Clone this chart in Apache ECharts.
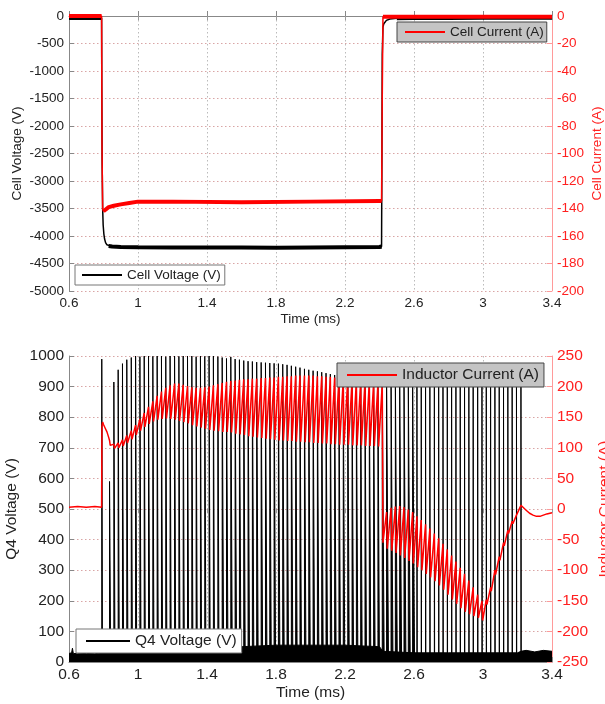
<!DOCTYPE html>
<html><head><meta charset="utf-8">
<script src="https://cdn.jsdelivr.net/npm/echarts@6/dist/echarts.min.js"></script>
<style>html,body{margin:0;padding:0;background:#fff}#c{width:605px;height:704px}</style>
</head><body><div id="c"></div>
<script>
// ---------- Top chart data ----------
const timeTicks = [0.6, 1, 1.4, 1.8, 2.2, 2.6, 3, 3.4];
const cellVoltageTime = [0.6, 0.65, 0.7, 0.75, 0.789, 0.790, 0.792, 0.795, 0.798, 0.802, 0.806, 0.812, 0.82, 0.83, 0.85, 0.9, 1.0, 1.2, 1.4, 1.6, 1.8, 2.0, 2.2, 2.4, 2.412, 2.414, 2.416, 2.42, 2.425, 2.43, 2.44, 2.46, 2.5, 2.6, 2.8, 3.0, 3.2, 3.4];
const cellVoltage = [-35, -30, -35, -30, -35, -1300, -2600, -3500, -3800, -3960, -4050, -4120, -4160, -4180, -4190, -4200, -4205, -4210, -4210, -4210, -4215, -4210, -4205, -4200, -4190, -2500, -700, -200, -140, -110, -80, -55, -40, -35, -35, -30, -30, -30];
const cellCurrentTime = [0.6, 0.7, 0.789, 0.791, 0.795, 0.80, 0.81, 0.83, 0.86, 0.9, 0.95, 1.0, 1.2, 1.6, 2.0, 2.4, 2.412, 2.416, 2.42, 2.6, 3.0, 3.4];
const cellCurrent = [0, 0, 0, -90, -140, -142, -141, -139, -138, -137, -136, -135, -135, -135.5, -135, -134.5, -134.5, -60, -0.5, -0.5, -0.5, -0.5];

// ---------- Bottom chart data ----------
const pulseTimes = [0.790,
  0.835,0.860,0.885,0.910,0.935,0.961,0.986,1.011,1.036,1.061,
  1.086,1.111,1.136,1.161,1.186,1.212,1.237,1.262,1.287,1.312,
  1.337,1.362,1.387,1.412,1.437,1.463,1.488,1.513,1.538,1.563,
  1.588,1.613,1.638,1.663,1.688,1.714,1.739,1.764,1.789,1.814,
  1.839,1.864,1.889,1.914,1.939,1.965,1.990,2.015,2.040,2.065,
  2.090,2.115,2.140,2.165,2.190,2.216,2.241,2.266,2.291,2.316,
  2.341,2.366,2.391,2.416,2.441,2.467,2.492,2.517,2.542,2.567,
  2.592,2.617,2.642,2.667,2.692,2.718,2.743,2.768,2.793,2.818,
  2.843,2.868,2.893,2.918,2.943,2.969,2.994,3.019,3.044,3.069,
  3.094,3.119,3.144,3.169,3.194,3.220];
const q4Peaks = [990,
  590,915,955,975,988,995,1000,998,1000,1000,
  999,1000,1000,998,1000,1000,999,1000,1000,1000,
  998,1000,999,1000,1000,998,995,992,997,990,
  988,985,983,982,980,979,978,977,976,975,
  973,971,968,965,962,958,955,952,950,947,
  944,941,938,935,932,930,928,925,922,920,
  918,915,912,905,935,930,932,928,930,926,
  930,928,932,930,926,930,928,930,932,928,
  930,926,930,928,930,932,928,930,926,930,
  928,930,932,928,930,935];
const inductorHigh = [112,106,108,113,120,128,137,147,157,167,
  176,185,192,198,202,205,205,203,201,199,
  198,198,199,200,202,204,206,208,209,210,
  211,212,212,213,213,214,214,215,215,216,
  216,217,217,218,218,218,218,218,217,217,
  216,216,215,214,213,212,211,210,210,209,
  208,207,206,205,-5,2,4,5,3,-1,
  -5,-12,-18,-25,-32,-40,-48,-57,-66,-76,
  -86,-96,-106,-117,-128,-140,-150,-148,-128,-100,
  -78,-55,-35,-20,-10,6];
const inductorLow = [104,99,100,103,108,114,121,128,134,139,
  143,146,147,148,147,146,144,142,140,137,
  135,133,131,129,128,127,126,126,125,123,
  122,121,119,118,117,116,115,114,113,112,
  112,111,111,110,110,109,109,108,108,107,
  107,106,106,105,105,105,104,104,104,103,
  103,103,102,-55,-65,-68,-72,-76,-80,-85,
  -89,-95,-100,-106,-112,-118,-125,-132,-140,-148,
  -155,-162,-168,-172,-175,-178,-182,-156,-134,-107,
  -84,-60,-40,-24,-13,3];
const inductorPreTime = [0.6, 0.65, 0.7, 0.75, 0.789, 0.791, 0.795, 0.80, 0.81, 0.82, 0.83];
const inductorPre = [3, 4, 3, 4, 3, 135, 142, 138, 132, 126, 117];
const inductorTailTime = [3.23, 3.25, 3.27, 3.29, 3.31, 3.33, 3.35, 3.37, 3.40];
const inductorTail = [4, -2, -7, -10, -12, -12, -10, -8, -6];
const q4BaseTime = [0.6, 0.615, 0.62, 0.625, 0.65, 0.7, 0.75, 0.79, 0.85, 1.0, 1.2, 1.4, 1.5, 1.6, 1.8, 2.0, 2.2, 2.4, 2.42, 2.6, 2.8, 3.0, 3.2, 3.22, 3.25, 3.3, 3.35, 3.4];
const q4BaseTop = [28, 30, 45, 28, 27, 28, 27, 30, 35, 38, 40, 42, 45, 50, 55, 55, 55, 50, 35, 30, 30, 30, 30, 35, 38, 33, 38, 35];

// ---------- builders ----------
const zip = (a, b) => a.map((t, i) => [t, b[i]]);
function band(ts, vs, ranges) {
  const out = [];
  ranges.forEach((r, i) => {
    if (i) out.push([r[0], '-']);
    ts.forEach((t, j) => { if (t >= r[0] && t <= r[1]) out.push([t, vs[j]]); });
  });
  return out;
}
const LOW = 15;
function pulseWidth(i) {
  if (i === 0) return 0.004;
  if (i < 27) return 0.0065;
  if (i < 64) return 0.0085;
  if (i < 72) return 0.011;
  return 0.0015;
}
const q4Data = [[0.6, LOW]];
pulseTimes.forEach((t, i) => {
  const w = pulseWidth(i);
  q4Data.push([t, LOW], [t, q4Peaks[i]], [t + w, q4Peaks[i]], [t + w, LOW]);
});
q4Data.push([3.4, LOW]);

const ilData = zip(inductorPreTime, inductorPre);
pulseTimes.slice(1).forEach((t, k) => {
  ilData.push([t, inductorHigh[k]], [t + 0.004, inductorLow[k]]);
});
zip(inductorTailTime, inductorTail).forEach(p => ilData.push(p));

// ---------- chart ----------
const FONT = "'Liberation Sans', Arial, sans-serif";
const fmt = v => String(parseFloat(v.toFixed(2)));
function xAxes(grid, fs, nameGap) {
  return [{
    gridIndex: grid, type: 'value', min: 0.6, max: 3.4, interval: 0.4,
    name: 'Time (ms)', nameLocation: 'middle', nameGap: nameGap, nameMoveOverlap: false,
    nameTextStyle: { fontFamily: FONT, fontSize: fs, color: '#222' },
    axisLine: { lineStyle: { color: '#888', width: 1 } },
    axisTick: { inside: true, length: 5, lineStyle: { color: '#888' } },
    axisLabel: { fontFamily: FONT, fontSize: fs, color: '#222', margin: 5, formatter: fmt },
    splitLine: { show: true, lineStyle: { color: '#bbb', type: [1.5, 2.5], width: 1 } }
  }, {
    gridIndex: grid, type: 'value', min: 0.6, max: 3.4, interval: 0.4, position: 'top',
    axisLine: { show: false },
    axisTick: { inside: true, length: 4, lineStyle: { color: '#999' } },
    axisLabel: { show: false }, splitLine: { show: false }
  }];
}
function leftAxis(grid, min, max, interval, name, fs, nameGap) {
  return {
    gridIndex: grid, type: 'value', min, max, interval, position: 'left',
    name, nameLocation: 'middle', nameGap, nameMoveOverlap: false,
    nameTextStyle: { fontFamily: FONT, fontSize: fs, color: '#222' },
    axisLine: { show: true, lineStyle: { color: '#888' } },
    axisTick: { show: true, inside: true, length: 5, lineStyle: { color: '#888' } },
    axisLabel: { fontFamily: FONT, fontSize: fs, color: '#222', margin: 5, formatter: v => String(v) },
    splitLine: { show: false }
  };
}
function rightAxis(grid, min, max, interval, name, fs, nameGap) {
  return {
    gridIndex: grid, type: 'value', min, max, interval, position: 'right',
    name, nameLocation: 'middle', nameGap, nameMoveOverlap: false,
    nameTextStyle: { fontFamily: FONT, fontSize: fs, color: '#ff2020' },
    axisLine: { show: true, lineStyle: { color: '#ff9a9a' } },
    axisTick: { show: true, inside: true, length: 5, lineStyle: { color: '#ff9a9a' } },
    axisLabel: { fontFamily: FONT, fontSize: fs, color: '#ff2020', margin: 5, formatter: v => String(v) },
    splitLine: { show: true, lineStyle: { color: '#d9a5a5', type: [1.5, 2.5], width: 1 } }
  };
}
const lineS = (name, x, y, data, color, width, z) => ({
  name, type: 'line', xAxisIndex: x, yAxisIndex: y, data, symbol: 'none', showSymbol: false,
  sampling: null, animation: false, z: z || 2, silent: true,
  lineStyle: { color, width }, itemStyle: { color }
});
const legendBase = (name, left, top, fs, itemW, bg, border, pad) => ({
  data: [{ name, icon: 'rect' }], left, top, orient: 'horizontal', selectedMode: false,
  itemWidth: itemW, itemHeight: 2, padding: pad, backgroundColor: bg,
  borderColor: border, borderWidth: 1, borderRadius: 0,
  textStyle: { fontFamily: FONT, fontSize: fs, color: '#222' }
});

const chart = echarts.init(document.getElementById('c'));
chart.setOption({
  animation: false,
  backgroundColor: '#fff',
  grid: [
    { left: 69, top: 16, width: 483, height: 275, containLabel: false, outerBoundsMode: 'none' },
    { left: 69, top: 356, width: 483, height: 306, containLabel: false, outerBoundsMode: 'none' }
  ],
  xAxis: [...xAxes(0, 13.5, 21), ...xAxes(1, 15.5, 23)],
  yAxis: [
    leftAxis(0, -5000, 0, 500, 'Cell Voltage (V)', 13.5, 45),
    rightAxis(0, -200, 0, 20, 'Cell Current (A)', 13.5, 38),
    leftAxis(1, 0, 1000, 100, 'Q4 Voltage (V)', 15.5, 49),
    rightAxis(1, -250, 250, 50, 'Inductor Current (A)', 15.5, 45)
  ],
  legend: [
    legendBase('Cell Current (A)', 397, 22, 13.5, 40, '#c4c4c4', '#444', [3, 3, 3, 8]),
    legendBase('Cell Voltage (V)', 75, 265, 13.5, 40, '#fff', '#777', [3, 4, 3, 7]),
    legendBase('Inductor Current (A)', 337, 363, 15.5, 50, '#c4c4c4', '#444', [4, 5, 4, 10]),
    legendBase('Q4 Voltage (V)', 76, 629, 15.5, 44, '#fff', '#777', [4, 5, 4, 10])
  ],
  series: [
    lineS('Cell Voltage (V)', 0, 0, zip(cellVoltageTime, cellVoltage), '#000', 1.5, 2),
    lineS('cvBand', 0, 0, band(cellVoltageTime, cellVoltage, [[0.6, 0.789], [0.83, 2.412], [2.5, 3.4]]), '#000', 4, 2),
    lineS('Cell Current (A)', 0, 1, zip(cellCurrentTime, cellCurrent), '#ff0000', 1.5, 3),
    lineS('ccBand', 0, 1, band(cellCurrentTime, cellCurrent, [[0.6, 0.789], [0.80, 2.412], [2.42, 3.4]]), '#ff0000', 4, 3),
    Object.assign(lineS('q4Base', 2, 2, zip(q4BaseTime, q4BaseTop), '#000', 1, 2), { areaStyle: { color: '#000', opacity: 1, origin: 'start' } }),
    Object.assign(lineS('Q4 Voltage (V)', 2, 2, q4Data, '#000', 1, 2), { areaStyle: { color: '#000', opacity: 1, origin: 'start' } }),
    lineS('Inductor Current (A)', 2, 3, ilData, '#ff0000', 1.5, 3)
  ]
});
</script></body></html>
